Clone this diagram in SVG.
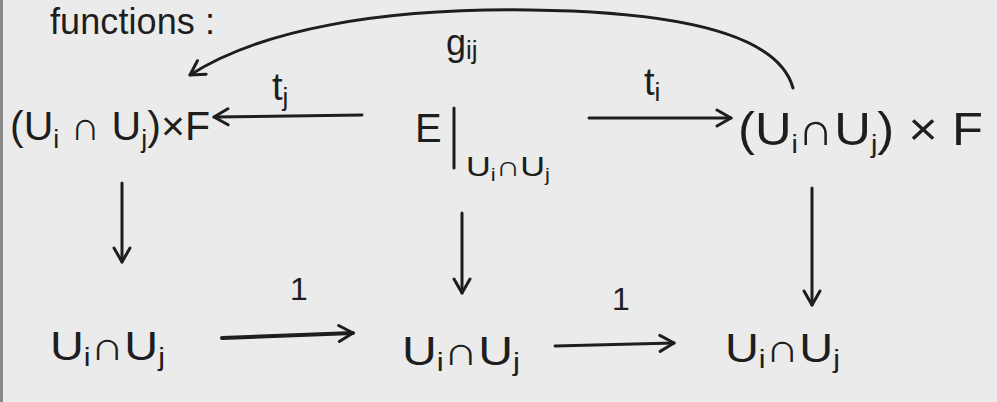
<svg xmlns="http://www.w3.org/2000/svg" width="997" height="402" viewBox="0 0 997 402">
<defs>
<style>
.t{font-family:"Liberation Sans","DejaVu Sans",sans-serif;fill:#1e1e1e;font-size:40px}
.s{font-size:26px}
.ln{fill:none;stroke:#1e1e1e;stroke-width:3;stroke-linecap:round;stroke-linejoin:round}
</style>
<marker id="ah" viewBox="0 0 20 20" refX="18" refY="10" markerWidth="20" markerHeight="20" markerUnits="userSpaceOnUse" orient="auto">
<path d="M4,2 L18,10 L4,18" fill="none" stroke="#1e1e1e" stroke-width="3" stroke-linecap="round" stroke-linejoin="round"/>
</marker>
</defs>
<rect width="997" height="402" fill="#ebebeb"/>
<line x1="1.5" y1="0" x2="1.5" y2="402" stroke="#8a8a8a" stroke-width="3"/>
<text class="t" x="50" y="34" style="font-size:36px" textLength="165">functions :</text>
<g id="n-topleft">
<text class="t" x="10" y="140" textLength="200" lengthAdjust="spacingAndGlyphs">(U<tspan class="s" dy="8">i</tspan><tspan dy="-8"> ∩ U</tspan><tspan class="s" dy="8">j</tspan><tspan dy="-8">)×F</tspan></text>
</g>
<g id="n-topmid">
<text class="t" x="415" y="142">E</text>
<line class="ln" x1="454" y1="108" x2="454" y2="168"/>
<text class="t" x="466" y="176" style="font-size:28px" textLength="84" lengthAdjust="spacingAndGlyphs">U<tspan style="font-size:18px" dy="5">i</tspan><tspan dy="-5">∩U</tspan><tspan style="font-size:18px" dy="5">j</tspan></text>
</g>
<g id="n-topright">
<text class="t" x="738" y="145" style="font-size:46px" textLength="245" lengthAdjust="spacingAndGlyphs">(U<tspan class="s" dy="8">i</tspan><tspan dy="-8">∩U</tspan><tspan class="s" dy="8">j</tspan><tspan dy="-8">) × F</tspan></text>
</g>
<g id="n-botleft">
<text class="t" x="50" y="360" textLength="115" lengthAdjust="spacingAndGlyphs">U<tspan class="s" dy="6">i</tspan><tspan dy="-6">∩U</tspan><tspan class="s" dy="6">j</tspan></text>
</g>
<g id="n-botmid">
<text class="t" x="402" y="365" textLength="118" lengthAdjust="spacingAndGlyphs">U<tspan class="s" dy="6">i</tspan><tspan dy="-6">∩U</tspan><tspan class="s" dy="6">j</tspan></text>
</g>
<g id="n-botright">
<text class="t" x="725" y="362" textLength="115" lengthAdjust="spacingAndGlyphs">U<tspan class="s" dy="6">i</tspan><tspan dy="-6">∩U</tspan><tspan class="s" dy="6">j</tspan></text>
</g>
<g id="connectors">
<path class="ln" d="M793,88 C780,40 700,12 530,10 C380,8 260,30 190,75" marker-end="url(#ah)"/>
<text class="t" x="446" y="55" style="font-size:36px">g<tspan class="s" dy="4">ij</tspan></text>
<line class="ln" x1="362" y1="115" x2="214" y2="117" marker-end="url(#ah)"/>
<text class="t" x="272" y="100" style="font-size:38px">t<tspan class="s" dy="6">j</tspan></text>
<line class="ln" x1="589" y1="118" x2="731" y2="118" marker-end="url(#ah)"/>
<text class="t" x="644" y="95" style="font-size:38px">t<tspan class="s" dy="6">i</tspan></text>
<line class="ln" x1="122" y1="183" x2="122" y2="262" marker-end="url(#ah)"/>
<line class="ln" x1="462" y1="213" x2="462" y2="293" marker-end="url(#ah)"/>
<line class="ln" x1="812" y1="188" x2="812" y2="305" marker-end="url(#ah)"/>
<line class="ln" x1="222" y1="338" x2="353" y2="333" marker-end="url(#ah)" style="stroke-width:4"/>
<text class="t" x="290" y="300" style="font-size:32px">1</text>
<line class="ln" x1="555" y1="346" x2="674" y2="343" marker-end="url(#ah)"/>
<text class="t" x="612" y="310" style="font-size:32px">1</text>
</g>
</svg>
